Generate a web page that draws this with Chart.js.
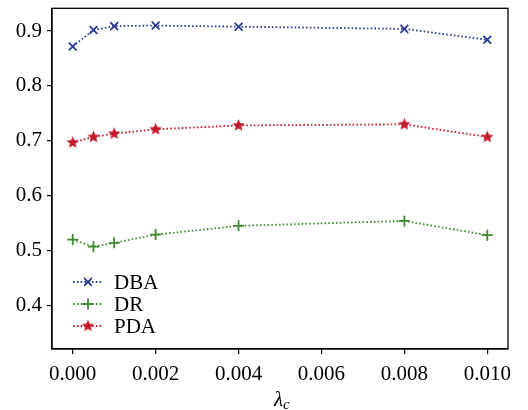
<!DOCTYPE html>
<html>
<head>
<meta charset="utf-8">
<script src="https://cdn.jsdelivr.net/npm/chart.js@4.4.1/dist/chart.umd.min.js"></script>
<style>
  html, body { margin: 0; padding: 0; background: #fff; }
  #wrap { width: 528px; height: 410px; }
</style>
</head>
<body>
<div id="wrap"><canvas id="chart" width="528" height="410"></canvas></div>
<script>
// data
const lambdaC = [0, 0.0005, 0.001, 0.002, 0.004, 0.008, 0.010];
const dba = [0.872, 0.902, 0.909, 0.910, 0.908, 0.904, 0.884];
const dr  = [0.520, 0.507, 0.514, 0.529, 0.545, 0.554, 0.528];
const pda = [0.697, 0.707, 0.713, 0.721, 0.728, 0.730, 0.707];
const xTicks = [0, 0.002, 0.004, 0.006, 0.008, 0.010];
const yTicks = [0.4, 0.5, 0.6, 0.7, 0.8, 0.9];

const BLUE = "#2b3a94";
const GREEN = "#3d8a2e";
const RED = "#c41a2e";
const FONT = "'Liberation Serif', serif";

// filled star marker
function makeStar(color, r) {
    const c = document.createElement("canvas");
    c.width = c.height = r * 2 + 2;
    const g = c.getContext("2d");
    g.fillStyle = color;
    g.beginPath();
    for (let i = 0; i < 10; i++) {
        const rad = i % 2 === 0 ? r : r * 0.45;
        const a = -Math.PI / 2 + i * Math.PI / 5;
        const px = r + 1 + rad * Math.cos(a);
        const py = r + 1 + rad * Math.sin(a);
        if (i === 0) g.moveTo(px, py); else g.lineTo(px, py);
    }
    g.closePath();
    g.fill();
    return c;
}
const starImg = makeStar(RED, 6.5);

function pts(ys) {
    return lambdaC.map((x, i) => ({ x: x, y: ys[i] }));
}

const series = [
    { label: "DBA", data: dba, color: BLUE, style: "crossRot", radius: 5.5 },
    { label: "DR", data: dr, color: GREEN, style: "cross", radius: 5.5 },
    { label: "PDA", data: pda, color: RED, style: starImg, radius: 6.5 }
];

// frame, legend and x title
const extras = {
    id: "extras",
    afterDraw(chart) {
        const ctx = chart.ctx;
        const a = chart.chartArea;
        ctx.save();
        ctx.strokeStyle = "#000";
        ctx.lineWidth = 1.3;
        ctx.strokeRect(a.left, a.top, a.right - a.left, a.bottom - a.top);

        // legend
        let y = a.bottom - 67;
        series.forEach(s => {
            const x0 = a.left + 21, x1 = a.left + 51;
            ctx.strokeStyle = s.color;
            ctx.lineWidth = 1.8;
            ctx.setLineDash([1.6, 2.2]);
            ctx.beginPath();
            ctx.moveTo(x0, y);
            ctx.lineTo(x1, y);
            ctx.stroke();
            ctx.setLineDash([]);
            Chart.helpers.drawPoint(ctx, {
                pointStyle: s.style, radius: s.radius, borderWidth: 1.8
            }, (x0 + x1) / 2, y);
            ctx.fillStyle = "#000";
            ctx.font = "21px " + FONT;
            ctx.textBaseline = "middle";
            ctx.textAlign = "left";
            ctx.fillText(s.label, a.left + 62, y + 1);
            y += 22;
        });

        // x title: lambda_c
        const cx = (a.left + a.right) / 2;
        ctx.fillStyle = "#000";
        ctx.textBaseline = "alphabetic";
        ctx.font = "italic 21px " + FONT;
        ctx.textAlign = "right";
        ctx.fillText("\u03bb", cx + 3, 406);
        ctx.font = "italic 15px " + FONT;
        ctx.textAlign = "left";
        ctx.fillText("c", cx + 3, 409);
        ctx.restore();
    }
};

function noPad(scale) {
    scale.paddingTop = 0;
    scale.paddingBottom = 0;
    scale.paddingLeft = 0;
    scale.paddingRight = 0;
}

new Chart(document.getElementById("chart"), {
    type: "line",
    data: {
        datasets: series.map(s => ({
            label: s.label,
            data: pts(s.data),
            borderColor: s.color,
            backgroundColor: s.color,
            borderWidth: 1.8,
            borderDash: [1.6, 2.2],
            pointStyle: s.style,
            pointRadius: s.radius,
            pointBorderWidth: 1.8,
            pointBorderColor: s.color,
            pointBackgroundColor: s.color,
            tension: 0,
            fill: false
        }))
    },
    options: {
        responsive: false,
        animation: false,
        events: [],
        layout: { padding: { top: 3, right: 20, left: 0, bottom: 0 } },
        plugins: { legend: { display: false }, tooltip: { enabled: false } },
        scales: {
            x: {
                type: "linear",
                min: -0.0005,
                max: 0.0105,
                afterBuildTicks(scale) { scale.ticks = xTicks.map(v => ({ value: v })); },
                afterFit(scale) { scale.height = 61; noPad(scale); },
                grid: { drawOnChartArea: false, drawTicks: true, tickLength: 5, color: "#000", lineWidth: 1.2 },
                border: { display: true, color: "#000", width: 1.3 },
                ticks: {
                    color: "#000",
                    font: { family: FONT, size: 21 },
                    padding: 8,
                    maxRotation: 0,
                    callback: v => v.toFixed(3)
                }
            },
            y: {
                min: 0.3205,
                max: 0.9415,
                afterBuildTicks(scale) { scale.ticks = yTicks.map(v => ({ value: v })); },
                afterFit(scale) { scale.width = 52; noPad(scale); },
                grid: { drawOnChartArea: false, drawTicks: true, tickLength: 5, color: "#000", lineWidth: 1.2 },
                border: { display: true, color: "#000", width: 1.3 },
                ticks: {
                    color: "#000",
                    font: { family: FONT, size: 21 },
                    padding: 5,
                    callback: v => v.toFixed(1)
                }
            }
        }
    },
    plugins: [extras]
});
</script>
</body>
</html>
